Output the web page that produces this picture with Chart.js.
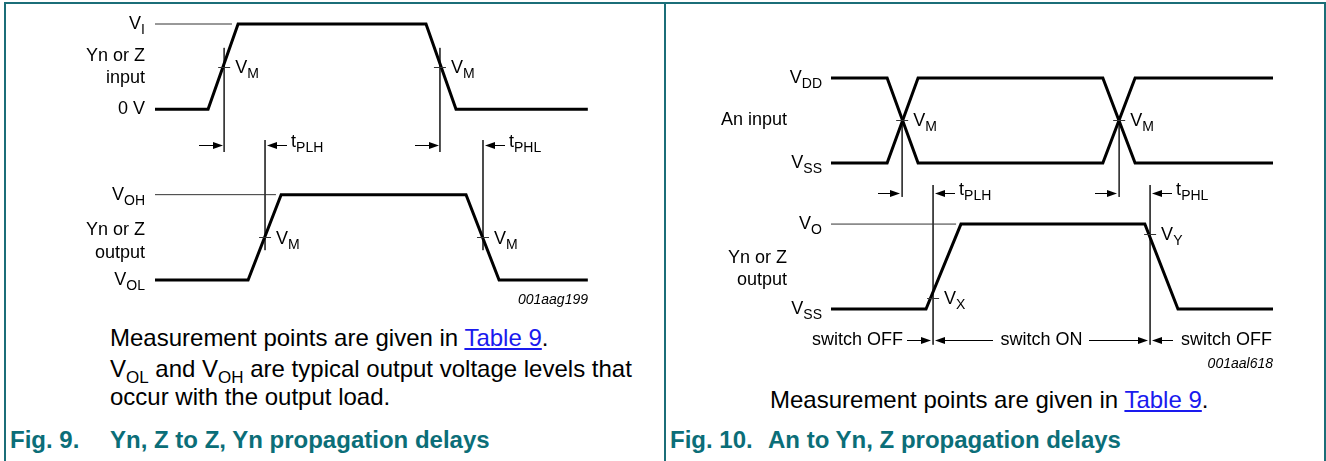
<!DOCTYPE html>
<html>
<head>
<meta charset="utf-8">
<script src="https://cdn.jsdelivr.net/npm/chart.js@4.4.1/dist/chart.umd.min.js"></script>
<style>
  body { margin: 0; width: 1326px; height: 461px; background: #fff; position: relative; overflow: hidden; font-family: "Liberation Sans", Arial, sans-serif; }
  .rule { position: absolute; background: #1b6e78; }
  canvas { position: absolute; top: 0; }
  .txt { position: absolute; font-size: 24px; line-height: 24px; color: #000; white-space: nowrap; }
  .txt sub { font-size: 17px; vertical-align: -6px; line-height: 0; }
  .txt a { color: #1a1aee; text-decoration: underline; }
  .cap { position: absolute; font-size: 24px; line-height: 24px; font-weight: bold; color: #0b6e78; white-space: nowrap; }
</style>
</head>
<body>
<div class="rule" style="left:4px;top:2px;width:1322px;height:2px"></div>
<div class="rule" style="left:4px;top:2px;width:2px;height:459px"></div>
<div class="rule" style="left:664px;top:2px;width:2px;height:459px"></div>
<div class="rule" style="left:1324px;top:2px;width:2px;height:459px"></div>

<canvas id="fig9" width="664" height="315" style="left:0"></canvas>
<canvas id="fig10" width="658" height="380" style="left:666px"></canvas>

<div class="txt" style="left:110px;top:326px">Measurement points are given in <a>Table 9</a>.</div>
<div class="txt" style="left:110px;top:357px">V<sub>OL</sub> and V<sub>OH</sub> are typical output voltage levels that</div>
<div class="txt" style="left:110px;top:385px">occur with the output load.</div>
<div class="txt" style="left:770px;top:388px">Measurement points are given in <a>Table 9</a>.</div>

<div class="cap" style="left:10px;top:428px">Fig. 9.</div>
<div class="cap" style="left:110px;top:428px">Yn, Z to Z, Yn propagation delays</div>
<div class="cap" style="left:670px;top:428px">Fig. 10.</div>
<div class="cap" style="left:768px;top:428px">An to Yn, Z propagation delays</div>

<script>
// Fig. 9: input and output waveforms (time in arbitrary units, level 0..3)
const fig9InTime = [0, 12.2, 19.1, 62.3, 69.2, 99.5];
const fig9InLevel = [2, 2, 3, 3, 2, 2];
const fig9OutTime = [0, 21.4, 29.0, 71.5, 79.1, 99.5];
const fig9OutLevel = [0, 0, 1, 1, 0, 0];
const fig9InVM = [15.9, 65.5];
const fig9OutVM = [25.3, 75.4];
const fig9LevelText = [["V", "I"], ["0 V", ""], ["V", "OH"], ["V", "OL"]];
const fig9LevelValue = [3, 2, 1, 0];
const fig9RefLevel = [3, 1];
const fig9RefEnd = [17.7, 27.8];

// Fig. 10: two complementary inputs and the switch output
const fig10InTime = [0, 12.7, 19.7, 61.5, 68.8, 100];
const fig10InFall = [2.72, 2.72, 1.72, 1.72, 2.72, 2.72];
const fig10InRise = [1.72, 1.72, 2.72, 2.72, 1.72, 1.72];
const fig10OutTime = [0, 21.5, 29.4, 71.0, 78.5, 100];
const fig10OutLevel = [0, 0, 1, 1, 0, 0];
const fig10InVM = [16.1, 65.2];
const fig10OutMark = [23.1, 72.2];
const fig10OutMarkLevel = [0.13, 0.88];
const fig10OutMarkText = ["X", "Y"];
const fig10LevelText = [["V", "DD"], ["V", "SS"], ["V", "O"], ["V", "SS"]];
const fig10LevelValue = [2.72, 1.72, 1, 0];
const fig10RefLevel = [1];
const fig10RefEnd = [28.3];

const FONT = '"Liberation Sans", Arial, sans-serif';
const pts = (xs, ys) => xs.map((x, i) => ({ x: x, y: ys[i] }));
const wave = (xs, ys) => ({
  data: pts(xs, ys), borderColor: "#000", borderWidth: 3, pointRadius: 0,
  showLine: true, tension: 0, clip: false, borderJoinStyle: "miter", borderCapStyle: "butt"
});
const thin = (xs, ys) => ({
  data: pts(xs, ys), borderColor: "#333", borderWidth: 1, pointRadius: 0,
  showLine: true, tension: 0, clip: false
});

function label(ctx, x, y, main, sub, align) {
  ctx.save();
  ctx.fillStyle = "#000";
  ctx.textBaseline = "middle";
  ctx.textAlign = "left";
  ctx.font = "18px " + FONT;
  const wm = ctx.measureText(main).width;
  ctx.font = "14px " + FONT;
  const ws = sub ? ctx.measureText(sub).width : 0;
  let sx = x;
  if (align === "right") sx = x - wm - ws;
  if (align === "center") sx = x - (wm + ws) / 2;
  ctx.font = "18px " + FONT;
  ctx.fillText(main, sx, y);
  if (sub) {
    ctx.font = "14px " + FONT;
    ctx.fillText(sub, sx + wm, y + 6);
  }
  ctx.restore();
}

function arrow(ctx, tipX, tailX, y) {
  const d = Math.sign(tipX - tailX);
  ctx.save();
  ctx.strokeStyle = "#000";
  ctx.fillStyle = "#000";
  ctx.lineWidth = 1;
  ctx.beginPath();
  ctx.moveTo(tailX, y + 0.5);
  ctx.lineTo(tipX - d * 4, y + 0.5);
  ctx.stroke();
  ctx.beginPath();
  ctx.moveTo(tipX, y + 0.5);
  ctx.lineTo(tipX - d * 10, y - 3);
  ctx.lineTo(tipX - d * 10, y + 4);
  ctx.closePath();
  ctx.fill();
  ctx.restore();
}

function tick(ctx, x, y) {
  ctx.save();
  ctx.strokeStyle = "#333";
  ctx.lineWidth = 1;
  ctx.beginPath();
  ctx.moveTo(x - 6, Math.round(y) + 0.5);
  ctx.lineTo(x + 6, Math.round(y) + 0.5);
  ctx.stroke();
  ctx.restore();
}

function italic(ctx, text, x, y) {
  ctx.save();
  ctx.font = "italic 14px " + FONT;
  ctx.fillStyle = "#000";
  ctx.textAlign = "right";
  ctx.textBaseline = "middle";
  ctx.fillText(text, x, y);
  ctx.restore();
}

const hiddenScales = (ymin, ymax) => ({
  x: { type: "linear", min: 0, max: 100, display: false },
  y: { type: "linear", min: ymin, max: ymax, display: false }
});

// ---------- Fig. 9 ----------
const fig9Datasets = [
  wave(fig9InTime, fig9InLevel),
  wave(fig9OutTime, fig9OutLevel)
];
fig9RefLevel.forEach((lv, i) => fig9Datasets.push(thin([0, fig9RefEnd[i]], [lv, lv])));
fig9InVM.forEach(t => fig9Datasets.push(thin([t, t], [2.72, 1.5])));
fig9OutVM.forEach(t => fig9Datasets.push(thin([t, t], [1.64, 0.35])));

const fig9Notes = {
  id: "fig9Notes",
  afterDatasetsDraw(chart) {
    const ctx = chart.ctx;
    const px = v => chart.scales.x.getPixelForValue(v);
    const py = v => chart.scales.y.getPixelForValue(v);
    const left = chart.chartArea.left;
    fig9LevelValue.forEach((lv, i) => label(ctx, left - 10, py(lv), fig9LevelText[i][0], fig9LevelText[i][1], "right"));
    label(ctx, left - 10, py(2.5) - 11, "Yn or Z", "", "right");
    label(ctx, left - 10, py(2.5) + 11, "input", "", "right");
    label(ctx, left - 10, py(0.5) - 7, "Yn or Z", "", "right");
    label(ctx, left - 10, py(0.5) + 16, "output", "", "right");
    fig9InVM.forEach(t => { tick(ctx, px(t), py(2.5)); label(ctx, px(t) + 11, py(2.5) + 1, "V", "M"); });
    fig9OutVM.forEach(t => { tick(ctx, px(t), py(0.5)); label(ctx, px(t) + 11, py(0.5) + 2, "V", "M"); });
    const ay = Math.round(py(1.58));
    const names = ["PLH", "PHL"];
    fig9InVM.forEach((t, i) => {
      const tip = Math.round(px(t)) - 1;
      arrow(ctx, tip, tip - 24, ay);
      const tip2 = Math.round(px(fig9OutVM[i])) + 2;
      arrow(ctx, tip2, tip2 + 20, ay);
      label(ctx, px(fig9OutVM[i]) + 26, ay - 3, "t", names[i]);
    });
    italic(ctx, "001aag199", chart.chartArea.right - 2, py(-0.23));
  }
};

new Chart(document.getElementById("fig9"), {
  type: "scatter",
  data: { datasets: fig9Datasets },
  options: {
    responsive: false, animation: false, devicePixelRatio: 1,
    layout: { padding: { left: 155, right: 74, top: 24, bottom: 35 } },
    scales: hiddenScales(0, 3),
    plugins: { legend: { display: false }, tooltip: { enabled: false } }
  },
  plugins: [fig9Notes]
});

// ---------- Fig. 10 ----------
const fig10Datasets = [
  wave(fig10InTime, fig10InFall),
  wave(fig10InTime, fig10InRise),
  wave(fig10OutTime, fig10OutLevel)
];
fig10RefLevel.forEach((lv, i) => fig10Datasets.push(thin([0, fig10RefEnd[i]], [lv, lv])));
fig10InVM.forEach(t => fig10Datasets.push(thin([t, t], [2.22, 1.32])));
fig10OutMark.forEach(t => fig10Datasets.push(thin([t, t], [1.46, -0.42])));

const fig10Notes = {
  id: "fig10Notes",
  afterDatasetsDraw(chart) {
    const ctx = chart.ctx;
    const px = v => chart.scales.x.getPixelForValue(v);
    const py = v => chart.scales.y.getPixelForValue(v);
    const left = chart.chartArea.left;
    fig10LevelValue.forEach((lv, i) => label(ctx, left - 9, py(lv), fig10LevelText[i][0], fig10LevelText[i][1], "right"));
    label(ctx, left - 44, py(2.22), "An input", "", "right");
    label(ctx, left - 44, py(0.5) - 9, "Yn or Z", "", "right");
    label(ctx, left - 44, py(0.5) + 13, "output", "", "right");
    fig10InVM.forEach(t => { tick(ctx, px(t), py(2.22)); label(ctx, px(t) + 11, py(2.22) + 1, "V", "M"); });
    fig10OutMark.forEach((t, i) => {
      tick(ctx, px(t), py(fig10OutMarkLevel[i]));
      label(ctx, px(t) + 11, py(fig10OutMarkLevel[i]) + 1, "V", fig10OutMarkText[i]);
    });
    const ay = Math.round(py(1.365));
    const names = ["PLH", "PHL"];
    fig10InVM.forEach((t, i) => {
      const tip = Math.round(px(t)) - 2;
      arrow(ctx, tip, tip - 22, ay);
      const tip2 = Math.round(px(fig10OutMark[i])) + 2;
      arrow(ctx, tip2, tip2 + 20, ay);
      label(ctx, px(fig10OutMark[i]) + 26, ay - 3, "t", names[i]);
    });
    const sy = Math.round(py(-0.365));
    const a = Math.round(px(fig10OutMark[0]));
    const b = Math.round(px(fig10OutMark[1]));
    label(ctx, a - 30, sy, "switch OFF", "", "right");
    arrow(ctx, a - 2, a - 26, sy);
    arrow(ctx, a + 2, a + 60, sy);
    label(ctx, (a + b) / 2, sy, "switch ON", "", "center");
    arrow(ctx, b - 2, b - 61, sy);
    arrow(ctx, b + 2, b + 23, sy);
    label(ctx, b + 31, sy, "switch OFF", "");
    italic(ctx, "001aal618", chart.chartArea.right, py(-0.65));
  }
};

new Chart(document.getElementById("fig10"), {
  type: "scatter",
  data: { datasets: fig10Datasets },
  options: {
    responsive: false, animation: false, devicePixelRatio: 1,
    layout: { padding: { left: 165, right: 51, top: 78, bottom: 71 } },
    scales: hiddenScales(0, 2.72),
    plugins: { legend: { display: false }, tooltip: { enabled: false } }
  },
  plugins: [fig10Notes]
});
</script>
</body>
</html>
